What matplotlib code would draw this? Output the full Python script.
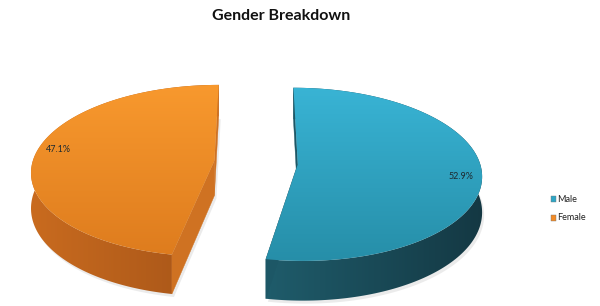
import numpy as np
import matplotlib.pyplot as plt
from matplotlib.patches import Polygon, Rectangle
from matplotlib.colors import LinearSegmentedColormap

# data
labels = ['Male', 'Female']
shares = [52.9, 47.1]
pct_labels = ['52.9%', '47.1%']

# styles
top_colors = [('#39b4d5', '#268ea8'), ('#f8992e', '#de7c1e')]
wall_colors = [('#1f5c6b', '#143843'), ('#c96b1f', '#a55418')]
cut_colors = ['#1d5766', '#cf7222']
legend_colors = ['#2ea6c6', '#f28b27']
label_nudge = [(3, 5), (0, -5)]

# fake 3d projection (pixel space)
X0, Y0 = 256, 162.5
F, G = 182, 85
P = 0.116
H = 35
EXPLODE = 0.23


def project(xw, yw, z=0.0):
    d = 1 + P * yw
    return X0 + F * xw / d, Y0 - G * yw / d + H * z / d


def gradient_fill(ax, pts, colors, horizontal, z):
    patch = Polygon(pts, closed=True, fc='none', ec='none', zorder=z)
    ax.add_patch(patch)
    x_lo, x_hi = pts[:, 0].min(), pts[:, 0].max()
    y_lo, y_hi = pts[:, 1].min(), pts[:, 1].max()
    cmap = LinearSegmentedColormap.from_list('g', list(colors))
    grad = np.linspace(0, 1, 256)
    grad = grad.reshape(1, -1) if horizontal else grad.reshape(-1, 1)
    im = ax.imshow(grad, cmap=cmap, aspect='auto', interpolation='bilinear', zorder=z,
                   extent=[x_lo - 1, x_hi + 1, y_hi + 1, y_lo - 1])
    im.set_clip_path(patch)


fig = plt.figure(figsize=(6, 3.06), dpi=100)
ax = fig.add_axes([0, 0, 1, 1])

total = float(sum(shares))
start = 0.0
for i, share in enumerate(shares):
    t0 = start
    t1 = start + 360.0 * share / total
    start = t1
    mid = np.radians((t0 + t1) / 2)
    ox, oy = EXPLODE * np.sin(mid), EXPLODE * np.cos(mid)

    th = np.radians(np.linspace(t0, t1, 160))
    xw = ox + np.sin(th)
    yw = oy + np.cos(th)
    top = np.array([project(x, y) for x, y in zip(xw, yw)])
    bot = np.array([project(x, y, 1) for x, y in zip(xw, yw)])
    apex_t = project(ox, oy)
    apex_b = project(ox, oy, 1)

    # soft shadow
    shadow = np.vstack([bot, [apex_b]]) + [2, 3]
    ax.add_patch(Polygon(shadow, closed=True, fc='#c8c8c8', ec='none', alpha=0.35, zorder=1))

    # outer wall
    wall = np.vstack([top, bot[::-1]])
    gradient_fill(ax, wall, wall_colors[i], True, 2)

    # radial cut faces
    for edge_t, edge_b in [(top[0], bot[0]), (top[-1], bot[-1])]:
        quad = [apex_t, edge_t, edge_b, apex_b]
        ax.add_patch(Polygon(quad, closed=True, fc=cut_colors[i], ec=cut_colors[i],
                             lw=0.3, zorder=3))

    # top face
    gradient_fill(ax, np.vstack([[apex_t], top]), top_colors[i], False, 4)

    # data label
    lx, ly = project(ox + 0.87 * np.sin(mid), oy + 0.87 * np.cos(mid))
    ax.text(lx + label_nudge[i][0], ly + label_nudge[i][1], pct_labels[i], fontsize=6.5,
            family='Lato', color='#1e2a30', ha='center', va='center', zorder=6)

ax.set_xlim(0, 600)
ax.set_ylim(306, 0)
ax.axis('off')

ax.text(281, 16, 'Gender Breakdown', fontsize=11.5, family='Lato', fontweight='bold',
        ha='center', va='center', color='#111111')

# legend
for i, name in enumerate(labels):
    y = 199 + i * 19
    ax.add_patch(Rectangle((550.5, y - 2.8), 5.5, 5.5, fc=legend_colors[i], ec='#777777',
                           lw=0.3, zorder=6))
    ax.text(557, y, name, fontsize=6.5, family='Lato', va='center', ha='left',
            color='#222222', zorder=6)

plt.savefig('out.png', dpi=100)
